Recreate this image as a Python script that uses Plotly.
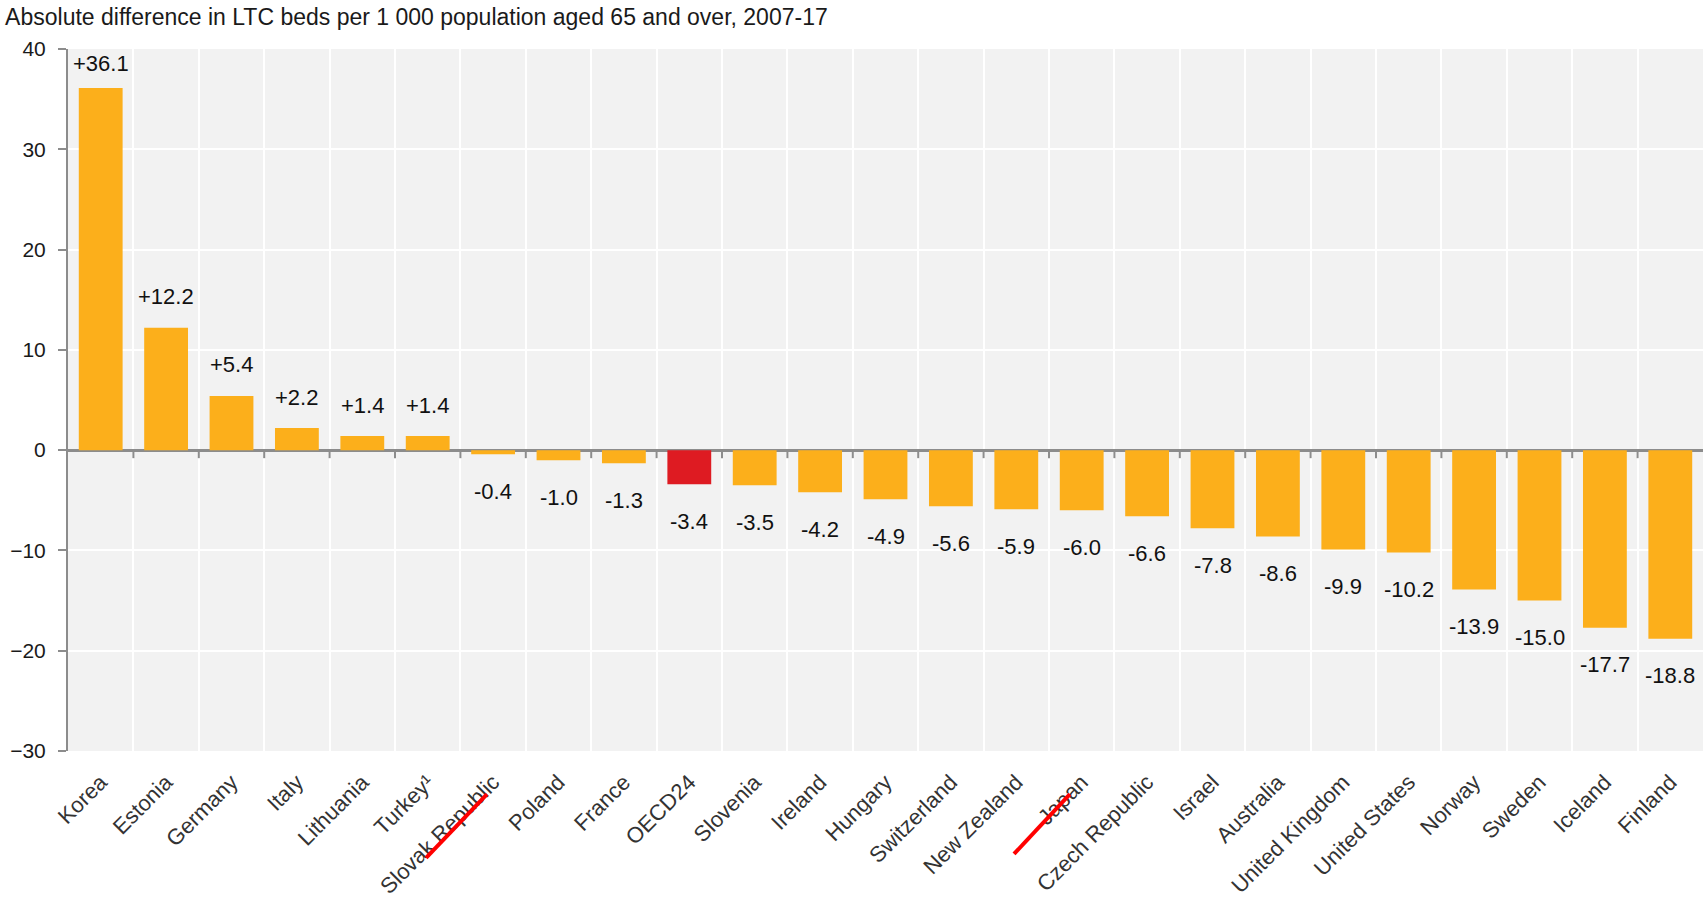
import plotly.graph_objects as go

# LTC beds per 1 000 population aged 65+, absolute change 2007-17
countries = [
    "Korea", "Estonia", "Germany", "Italy", "Lithuania", "Turkey¹",
    "Slovak Republic", "Poland", "France", "OECD24", "Slovenia", "Ireland",
    "Hungary", "Switzerland", "New Zealand", "Japan", "Czech Republic",
    "Israel", "Australia", "United Kingdom", "United States", "Norway",
    "Sweden", "Iceland", "Finland",
]
change = [
    36.1, 12.2, 5.4, 2.2, 1.4, 1.4,
    -0.4, -1.0, -1.3, -3.4, -3.5, -4.2,
    -4.9, -5.6, -5.9, -6.0, -6.6,
    -7.8, -8.6, -9.9, -10.2, -13.9,
    -15.0, -17.7, -18.8,
]
highlight = "OECD24"
y_ticks = [-30, -20, -10, 0, 10, 20, 30, 40]
y_range = [-30, 40]

ORANGE = "#FCAF1B"
RED = "#DE1B22"
AXIS_GREY = "#8C8C8C"
FONT = "Liberation Sans, Arial, sans-serif"

WIDTH, HEIGHT = 1703, 903
MARGIN = dict(l=68, r=0, t=49, b=152)
px_per_unit = (HEIGHT - MARGIN["t"] - MARGIN["b"]) / (y_range[1] - y_range[0])

bar_colors = [RED if c == highlight else ORANGE for c in countries]

fig = go.Figure(
    go.Bar(
        x=countries,
        y=change,
        marker=dict(color=bar_colors, line=dict(width=0)),
        hoverinfo="x+y",
    )
)

# value labels above positive bars, below negative bars
for c, v in zip(countries, change):
    if v > 0:
        # keep labels of tall bars inside the plot area
        shift = min(31, (y_range[1] - v) * px_per_unit - 15)
    else:
        shift = -37
    fig.add_annotation(
        x=c, y=v, xref="x", yref="y",
        text=f"{v:+.1f}",
        showarrow=False,
        yanchor="middle",
        yshift=shift,
        font=dict(family=FONT, size=22, color="#111111"),
    )

# small tick marks hanging from the zero line between categories
shapes = []
for i in range(len(countries) - 1):
    shapes.append(dict(
        type="line", xref="x", yref="y",
        x0=i + 0.5, x1=i + 0.5, y0=0, y1=-0.8,
        line=dict(color=AXIS_GREY, width=2),
        layer="above",
    ))

# red strike marks over two country labels
for x0, y0, x1, y1 in [(0.219, -0.1524, 0.2563, -0.0613),
                       (0.5786, -0.1467, 0.6128, -0.0613)]:
    shapes.append(dict(
        type="line", xref="paper", yref="paper",
        x0=x0, y0=y0, x1=x1, y1=y1,
        line=dict(color="#FF0000", width=4),
        layer="above",
    ))

fig.update_layout(
    width=WIDTH,
    height=HEIGHT,
    margin=MARGIN,
    paper_bgcolor="white",
    plot_bgcolor="#F2F2F2",
    bargap=0.33,
    showlegend=False,
    shapes=shapes,
    title=dict(
        text="Absolute difference in LTC beds per 1 000 population aged 65 and over, 2007-17",
        x=0.003, xanchor="left", xref="container",
        y=0.981, yanchor="middle", yref="container",
        font=dict(family=FONT, size=23, color="#1a1a1a"),
    ),
    xaxis=dict(
        type="category",
        tickson="boundaries",
        showgrid=True,
        gridcolor="white",
        gridwidth=2,
        showline=False,
        ticks="",
        tickangle=-45,
        ticklabelstandoff=13,
        tickfont=dict(family=FONT, size=22, color="#333333"),
        range=[-0.5, len(countries) - 0.5],
    ),
    yaxis=dict(
        range=y_range,
        tickvals=y_ticks,
        showgrid=True,
        gridcolor="white",
        gridwidth=2,
        showline=True,
        linecolor=AXIS_GREY,
        linewidth=2,
        ticks="outside",
        ticklen=8,
        tickwidth=2,
        tickcolor=AXIS_GREY,
        ticklabelstandoff=8,
        zeroline=True,
        zerolinecolor=AXIS_GREY,
        zerolinewidth=3,
        tickfont=dict(family=FONT, size=21, color="#1a1a1a"),
    ),
)

fig.write_html("out.html")
